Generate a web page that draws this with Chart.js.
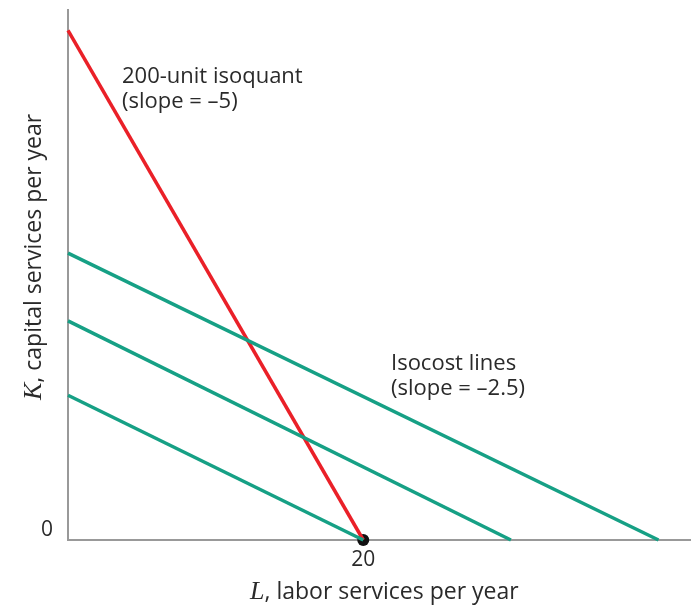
<!DOCTYPE html>
<html>
<head>
<meta charset="utf-8">
<script src="https://cdn.jsdelivr.net/npm/chart.js@4.4.0/dist/chart.umd.min.js"></script>
<style>
    html, body { margin: 0; padding: 0; background: #fff; }
    #wrap { width: 691px; height: 609px; position: relative; }
</style>
</head>
<body>
<div id="wrap"><canvas id="IsoChart"></canvas></div>
<script>
// isoquant (slope -5)
const isoquantL = [0, 20];
const isoquantK = [100, 0];

// isocost lines (slope -2.5 as labelled)
const isocost1L = [0, 20];
const isocost1K = [28.4, 0];
const isocost2L = [0, 30];
const isocost2K = [43.0, 0];
const isocost3L = [0, 40];
const isocost3K = [56.3, 0];

// the tangency point
const pointL = [20];
const pointK = [0];

const xTicks = [20];
const yTicks = [0];

const FONT = "'Open Sans', Arial, sans-serif";
const SERIF = "italic 26px 'Liberation Serif', serif";
const GREEN = "rgb(22,160,133)";
const RED = "rgb(234,32,40)";

function pairs(xs, ys) {
    return xs.map((x, i) => ({ x: x, y: ys[i] }));
}

function lineSet(xs, ys, color) {
    return {
        data: pairs(xs, ys),
        showLine: true,
        borderColor: color,
        backgroundColor: color,
        borderWidth: 3.5,
        pointRadius: 0,
        clip: false,
    };
}

const textPlugin = {
    id: "texts",
    afterDraw(chart) {
        const ctx = chart.ctx;
        ctx.save();
        ctx.fillStyle = "#2a2a2a";
        ctx.textBaseline = "alphabetic";
        ctx.textAlign = "left";
        ctx.font = "22px " + FONT;
        ctx.fillText("200-unit isoquant", 122, 83);
        ctx.fillText("(slope = \u20135)", 122, 108);
        ctx.fillText("Isocost lines", 391, 370);
        ctx.fillText("(slope = \u20132.5)", 391, 395);

        // x axis title: italic serif L, then sans text
        ctx.font = SERIF;
        const w1 = ctx.measureText("L").width;
        ctx.fillText("L", 250, 599);
        ctx.font = "23px " + FONT;
        ctx.fillText(", labor services per year", 250 + w1, 599);

        // y axis title rotated
        ctx.translate(41, 400);
        ctx.rotate(-Math.PI / 2);
        ctx.font = SERIF;
        const kw1 = ctx.measureText("K").width;
        ctx.fillText("K", 0, 0);
        ctx.font = "23px " + FONT;
        ctx.fillText(", capital services per year", kw1, 0);
        ctx.restore();
    },
};

function IsoChart() {
    const ctx = document.getElementById("IsoChart");

    new Chart(ctx, {
        type: "scatter",
        data: {
            datasets: [
                lineSet(isocost1L, isocost1K, GREEN),
                lineSet(isocost2L, isocost2K, GREEN),
                lineSet(isocost3L, isocost3K, GREEN),
                lineSet(isoquantL, isoquantK, RED),
                {
                    data: pairs(pointL, pointK),
                    pointRadius: 6,
                    backgroundColor: "#111",
                    borderColor: "#111",
                    borderWidth: 0,
                    clip: false,
                },
            ],
        },
        options: {
            responsive: true,
            maintainAspectRatio: false,
            animation: false,
            layout: {
                autoPadding: false,
                padding: { top: 10, right: 0, left: 0, bottom: 0 },
            },
            plugins: {
                legend: { display: false },
                tooltip: { enabled: false },
            },
            scales: {
                x: {
                    type: "linear",
                    min: 0,
                    max: 42.2,
                    afterBuildTicks: (axis) => { axis.ticks = xTicks.map(v => ({ value: v })); },
                    afterFit: (axis) => {
                        axis.height = 69;
                        axis.paddingLeft = 0;
                        axis.paddingRight = 0;
                    },
                    grid: { display: false, drawTicks: false },
                    border: { color: "#999", width: 2 },
                    ticks: {
                        padding: 7,
                        color: "#2a2a2a",
                        font: { family: FONT, size: 21 },
                    },
                },
                y: {
                    type: "linear",
                    min: 0,
                    max: 104,
                    afterBuildTicks: (axis) => { axis.ticks = yTicks.map(v => ({ value: v })); },
                    afterFit: (axis) => {
                        axis.width = 68;
                        axis.paddingTop = 0;
                        axis.paddingBottom = 0;
                    },
                    grid: { display: false, drawTicks: false },
                    border: { color: "#999", width: 2 },
                    ticks: {
                        padding: 15,
                        labelOffset: -10,
                        color: "#2a2a2a",
                        font: { family: FONT, size: 21 },
                    },
                },
            },
        },
        plugins: [textPlugin],
    });
}

IsoChart();
</script>
</body>
</html>
